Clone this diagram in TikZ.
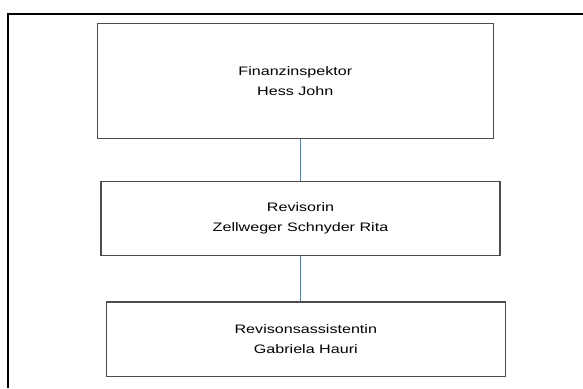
\documentclass[tikz,border=0pt]{standalone}
\usepackage{fontspec,graphicx}
\setmainfont{Liberation Sans}
\usetikzlibrary{calc}
\definecolor{linkblue}{HTML}{3F7FE6}
\newcommand{\wideline}[1]{\scalebox{1.31}[1]{#1}}
\tikzset{
  orgbox/.style={draw=black!70, line width=1.1pt, fill=white, align=center, inner sep=0pt,
    font=\fontsize{12.3}{19.5}\selectfont},
  orglink/.style={draw=linkblue, line width=1.2pt}
}

\begin{document}
\begin{tikzpicture}[x=1pt,y=-1pt]
            \useasboundingbox (0,0) rectangle (583,388);
            \draw[line width=2.2pt] (8,388)--(8,14)--(583,14);
            \node[orgbox, minimum width=396pt, minimum height=115.4pt] (inspektor) at (295.3,81) {\wideline{Finanzinspektor}\\\wideline{Hess John}};
            \node[orgbox, minimum width=399pt, minimum height=74.7pt] (revisorin) at (300.5,218.4) {\wideline{Revisorin}\\\wideline{Zellweger Schnyder Rita}};
            \node[orgbox, minimum width=399pt, minimum height=74.7pt] (assistentin) at (305.8,339.3) {\wideline{Revisonsassistentin}\\\wideline{Gabriela Hauri}};
            \draw[orglink] (revisorin.north)--(revisorin.north |- inspektor.south);
            \draw[orglink] (revisorin.south)--(revisorin.south |- assistentin.north);
        \end{tikzpicture}
\end{document}
